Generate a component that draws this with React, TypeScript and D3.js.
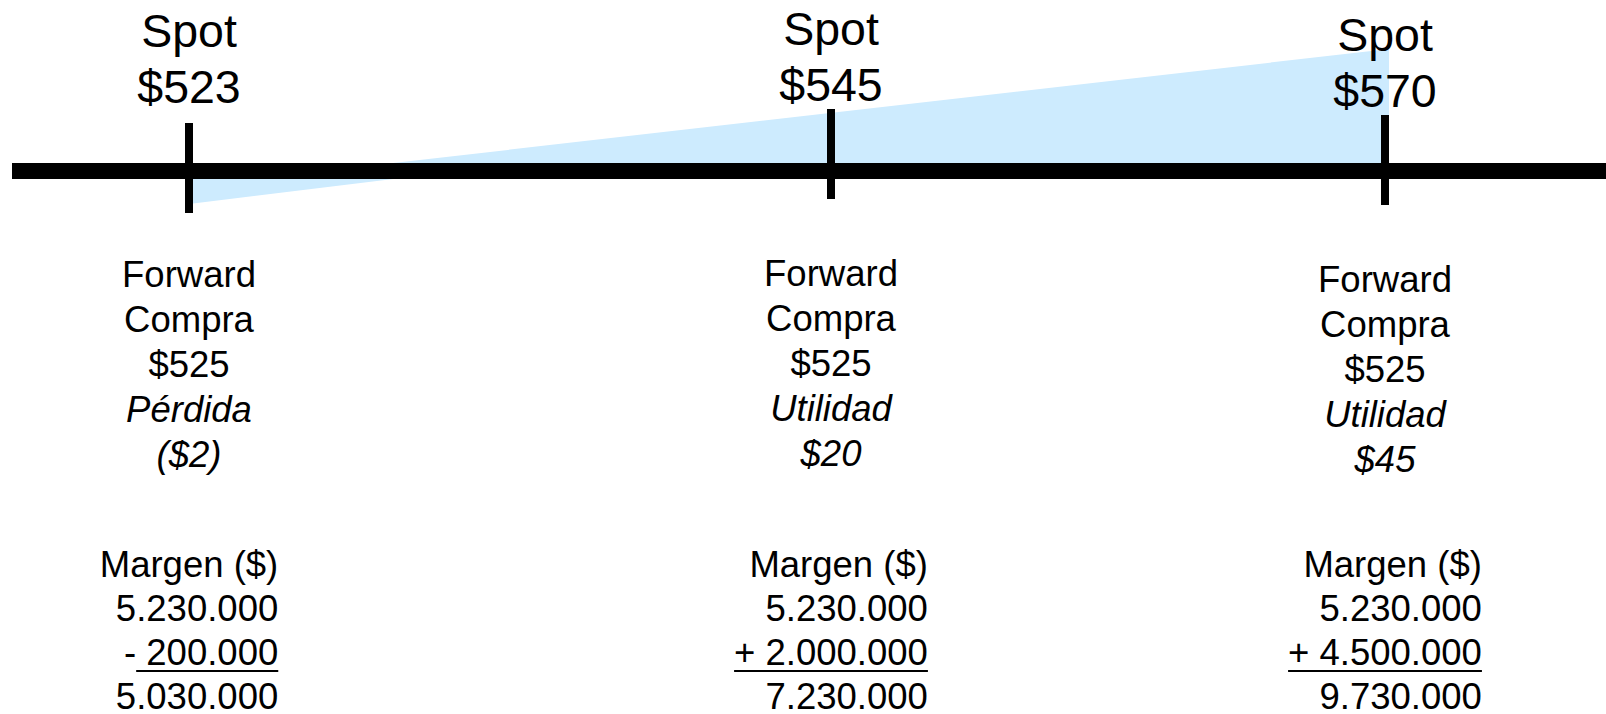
import React, { useEffect, useRef } from 'react';
import * as d3 from 'd3';

const WIDTH = 1606;
const HEIGHT = 714;

// values
const spotPrices = [523, 545, 570];
const forwardTitle = 'Forward';
const forwardSide = 'Compra';
const forwardPrice = 525;
const resultNames = ['Pérdida', 'Utilidad', 'Utilidad'];
const profits = [-2, 20, 45];
const marginTitle = 'Margen ($)';
const baseMargin = 5230000;
const marginChanges = [-200000, 2000000, 4500000];
const finalMargins = [5030000, 7230000, 9730000];

// shaded payoff wedge (profit per unit); it crosses the axis near 530 in the drawing
const wedgeSpot = [523, 530, 570];
const wedgeProfit = [-2, 0, 45];

// layout
const tickX = [189, 831, 1385];
const tickTop = [123, 109, 115];
const spotShift = [0, -2, 4];
const blockShift = [0, -1, 5];
const AXIS_Y = 171;
const AXIS_W = 16;
const AXIS_LEFT = 12;
const TICK_W = 8;
const TICK_LEN = 90;
const FONT = "'Liberation Sans', Arial, Helvetica, sans-serif";
const FILL = '#cdebfe';

const locale = d3.formatLocale({ decimal: ',', thousands: '.', grouping: [3], currency: ['$', ''] });
const fmt = locale.format(',');

const App = () => {
  const ref = useRef(null);

  useEffect(() => {
    const svg = d3.select(ref.current);
    svg.selectAll('*').remove();

    const x = d3.scaleLinear().domain(spotPrices).range(tickX);
    const yLow = d3.scaleLinear()
      .domain([d3.min(wedgeProfit), 0])
      .range([204, AXIS_Y + AXIS_W / 2]);
    const yHigh = d3.scaleLinear()
      .domain([0, d3.max(wedgeProfit)])
      .range([AXIS_Y - AXIS_W / 2, 49]);

    const last = wedgeSpot.length - 1;
    const pts = wedgeSpot.map((s, i) => ({ s, p: wedgeProfit[i], i }));
    const wx = d => x(d.s) + (d.i === last ? TICK_W / 2 : 0);

    const lowArea = d3.area().x(wx).y0(yLow(0)).y1(d => yLow(d.p));
    const highArea = d3.area().x(wx).y0(yHigh(0)).y1(d => yHigh(d.p));

    svg.append('path').attr('d', lowArea(pts.filter(d => d.p <= 0))).attr('fill', FILL);
    svg.append('path').attr('d', highArea(pts.filter(d => d.p >= 0))).attr('fill', FILL);

    // axis
    svg.append('rect')
      .attr('x', AXIS_LEFT).attr('y', AXIS_Y - AXIS_W / 2)
      .attr('width', WIDTH - AXIS_LEFT).attr('height', AXIS_W)
      .attr('fill', '#000');

    spotPrices.forEach((spot, i) => {
      const cx = x(spot);

      svg.append('rect')
        .attr('x', cx - TICK_W / 2).attr('y', tickTop[i])
        .attr('width', TICK_W).attr('height', TICK_LEN)
        .attr('fill', '#000');

      // spot label
      ['Spot', `$${spot}`].forEach((t, j) => {
        svg.append('text')
          .attr('x', cx).attr('y', 47 + j * 56 + spotShift[i])
          .attr('text-anchor', 'middle')
          .style('font-family', FONT).style('font-size', '46.5px')
          .text(t);
      });

      // forward block
      const p = profits[i];
      const lines = [
        [forwardTitle, false],
        [forwardSide, false],
        [`$${forwardPrice}`, false],
        [resultNames[i], true],
        [p < 0 ? `($${-p})` : `$${p}`, true],
      ];
      lines.forEach(([t, it], j) => {
        svg.append('text')
          .attr('x', cx).attr('y', 287 + j * 45 + blockShift[i])
          .attr('text-anchor', 'middle')
          .style('font-family', FONT).style('font-size', '36.5px')
          .style('font-style', it ? 'italic' : 'normal')
          .text(t);
      });

      // margin block, right aligned, box centred on the tick
      const ch = marginChanges[i];
      const chLabel = (ch < 0 ? '- ' : '+ ') + fmt(Math.abs(ch));
      const mLines = [marginTitle, fmt(baseMargin), chLabel, fmt(finalMargins[i])];
      const g = svg.append('g');
      mLines.forEach((t, j) => {
        const y = 577 + j * 44;
        const tx = g.append('text')
          .attr('x', 0).attr('y', y)
          .attr('text-anchor', 'end')
          .style('font-family', FONT).style('font-size', '36.5px')
          .text(t);
        if (j === 2) {
          const from = ch < 0 ? 1 : 0;
          const len = tx.node().getSubStringLength(from, t.length - from);
          g.append('line')
            .attr('x1', -len).attr('x2', 0)
            .attr('y1', y + 6).attr('y2', y + 6)
            .attr('stroke', '#000').attr('stroke-width', 2);
        }
      });
      const bb = g.node().getBBox();
      g.attr('transform', `translate(${cx - (bb.x + bb.width / 2)},0)`);
    });
  }, []);

  return (
    <svg
      ref={ref}
      width={WIDTH}
      height={HEIGHT}
      style={{ position: 'absolute', left: 0, top: 0, background: '#fff' }}
    />
  );
};

export default App;
